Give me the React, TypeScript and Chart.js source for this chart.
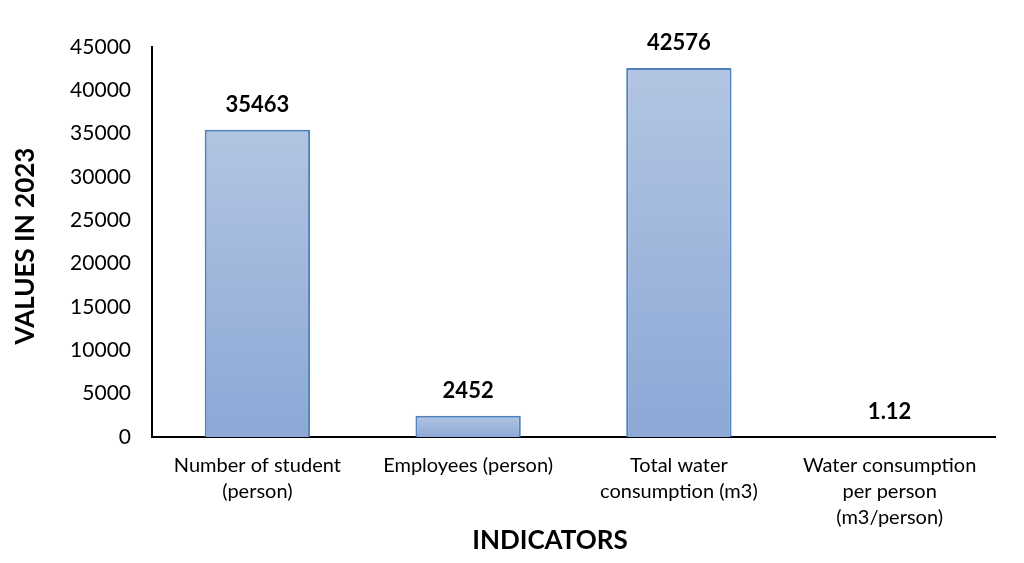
import React, { useEffect, useRef } from "react";
import { Chart, registerables } from "chart.js";

Chart.register(...registerables);

const categories: (string | string[])[] = [
  ["Number of student", "(person)"],
  "Employees (person)",
  ["Total water", "consumption (m3)"],
  ["Water consumption", "per person", "(m3/person)"],
];
const values: number[] = [35463, 2452, 42576, 1.12];
const valueLabels: string[] = ["35463", "2452", "42576", "1.12"];
const yMin = 0;
const yMax = 45000;
const yStep = 5000;
const xTitle = "INDICATORS";
const yTitle = "VALUES IN 2023";

const FONT = "Lato, 'Open Sans', sans-serif";

const labelPlugin = {
  id: "barValueLabels",
  afterDatasetsDraw(chart: any) {
    const ctx = chart.ctx;
    const meta = chart.getDatasetMeta(0);
    ctx.save();
    ctx.font = `bold 22px ${FONT}`;
    ctx.fillStyle = "#000";
    ctx.textAlign = "center";
    ctx.textBaseline = "bottom";
    meta.data.forEach((el: any, i: number) => {
      ctx.fillText(valueLabels[i], el.x, el.y - 14);
    });
    ctx.restore();
  },
};

const titlePlugin = {
  id: "axisTitles",
  afterDraw(chart: any) {
    const ctx = chart.ctx;
    const area = chart.chartArea;
    ctx.save();
    ctx.font = `bold 26px ${FONT}`;
    ctx.fillStyle = "#000";
    ctx.textAlign = "center";
    ctx.textBaseline = "middle";
    ctx.fillText(xTitle, 550, 541);
    ctx.translate(26, (area.top + area.bottom) / 2 + 4);
    ctx.rotate(-Math.PI / 2);
    ctx.fillText(yTitle, 0, 0);
    ctx.restore();
  },
};

export default function App() {
  const ref = useRef<HTMLCanvasElement | null>(null);
  useEffect(() => {
    document.body.style.margin = "0";
    if (!ref.current) return;
    const chart = new Chart(ref.current, {
      type: "bar",
      data: {
        labels: categories,
        datasets: [
          {
            data: values,
            backgroundColor: (c: any) => {
              const ch = c.chart;
              const y = ch.scales?.y;
              if (!y || c.dataIndex === undefined) return "#a0b7dc";
              const top = y.getPixelForValue(values[c.dataIndex]);
              const base = y.getPixelForValue(0);
              if (!isFinite(top) || !isFinite(base) || Math.abs(base - top) < 1) return "#a0b7dc";
              const g = ch.ctx.createLinearGradient(0, top, 0, base);
              g.addColorStop(0, "#b2c5e2");
              g.addColorStop(1, "#8ca8d6");
              return g;
            },
            borderColor: "#4f81bd",
            borderWidth: 2,
            categoryPercentage: 1,
            barPercentage: 0.5,
          },
        ],
      },
      options: {
        animation: false,
        responsive: true,
        maintainAspectRatio: false,
        layout: { padding: { left: 0, right: 29, top: 47, bottom: 0 } },
        plugins: { legend: { display: false }, tooltip: { enabled: false } },
        scales: {
          x: {
            grid: { display: false, drawTicks: false },
            border: { display: true, color: "#000", width: 2 },
            ticks: {
              color: "#000",
              font: { family: FONT, size: 20, lineHeight: 1.3 },
              padding: 16,
              maxRotation: 0,
              autoSkip: false,
            },
            afterFit: (s: any) => {
              s.height = 126;
            },
          },
          y: {
            min: yMin,
            max: yMax,
            grid: { display: false, drawTicks: false },
            border: { display: true, color: "#000", width: 2 },
            ticks: {
              stepSize: yStep,
              color: "#000",
              font: { family: FONT, size: 21 },
              padding: 21,
              callback: (v: any) => String(v),
            },
            afterFit: (s: any) => {
              s.width = 152;
            },
          },
        },
      },
      plugins: [labelPlugin, titlePlugin],
    });
    return () => chart.destroy();
  }, []);
  return (
    <div style={{ width: 1024, height: 563, position: "relative" }}>
      <canvas ref={ref} />
    </div>
  );
}
